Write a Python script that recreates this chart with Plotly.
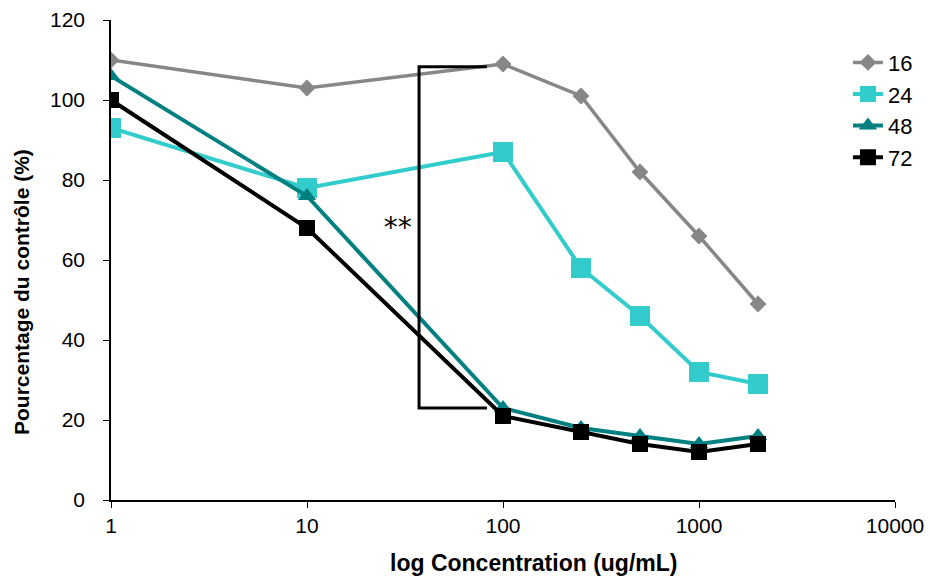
import plotly.graph_objects as go

concentration = [1, 10, 100, 250, 500, 1000, 2000]
s16 = [110, 103, 109, 101, 82, 66, 49]
s24 = [93, 78, 87, 58, 46, 32, 29]
s48 = [106, 76, 23, 18, 16, 14, 16]
s72 = [100, 68, 21, 17, 14, 12, 14]
y_ticks = [0, 20, 40, 60, 80, 100, 120]
x_ticks = [1, 10, 100, 1000, 10000]

bracket_x = [82.8, 37.3, 37.3, 82.8]
bracket_y = [108.3, 108.3, 23, 23]
star_x = [29]
star_y = [67.5]

W, H = 931, 577
ML, MR, MT, MB = 111, 36, 20, 77
PW, PH = W - ML - MR, H - MT - MB

fig = go.Figure()
fig.add_trace(go.Scatter(x=concentration, y=s16, name="16", mode="lines+markers",
                         line=dict(color="#878787", width=3.5),
                         marker=dict(symbol="diamond", size=13, color="#878787")))
fig.add_trace(go.Scatter(x=concentration, y=s24, name="24", mode="lines+markers",
                         line=dict(color="#33CCCC", width=4),
                         marker=dict(symbol="square", size=20, color="#33CCCC")))
fig.add_trace(go.Scatter(x=concentration, y=s48, name="48", mode="lines+markers",
                         line=dict(color="#008080", width=4),
                         marker=dict(symbol="triangle-up", size=16, color="#008080")))
fig.add_trace(go.Scatter(x=concentration, y=s72, name="72", mode="lines+markers",
                         line=dict(color="#000000", width=4),
                         marker=dict(symbol="square", size=16, color="#000000")))
fig.add_trace(go.Scatter(x=bracket_x, y=bracket_y, mode="lines", showlegend=False,
                         line=dict(color="#000000", width=3), hoverinfo="skip"))
fig.add_trace(go.Scatter(x=star_x, y=star_y, mode="text", text=["**"], showlegend=False,
                         textfont=dict(family="DejaVu Sans", size=28, color="#000000"),
                         hoverinfo="skip"))

fig.update_layout(
    width=W, height=H,
    margin=dict(l=ML, r=MR, t=MT, b=MB),
    paper_bgcolor="white", plot_bgcolor="white",
    font=dict(family="Liberation Sans, Arial, sans-serif", size=21, color="#000000"),
    showlegend=True,
    legend=dict(x=0.94, y=0.955, xanchor="left", yanchor="top",
                font=dict(size=22), bgcolor="rgba(0,0,0,0)", tracegroupgap=0),
    xaxis=dict(type="log", range=[0, 4], showgrid=False, zeroline=False,
               showline=True, linecolor="#000000", linewidth=1.5,
               ticks="outside", ticklen=6, tickcolor="#000000",
               tickvals=x_ticks, ticktext=[str(v) for v in x_ticks],
               automargin=False),
    yaxis=dict(range=[0, 120], showgrid=False, zeroline=False,
               showline=True, linecolor="#000000", linewidth=1.5,
               ticks="outside", ticklen=6, tickcolor="#000000",
               tickvals=y_ticks, ticktext=[str(v) for v in y_ticks],
               ticklabelstandoff=14,
               automargin=False),
    annotations=[
        dict(text="<b>log Concentration (ug/mL)</b>", xref="paper", yref="paper",
             x=(533 - ML) / PW, y=-(563 - (MT + PH)) / PH, xanchor="center", yanchor="middle",
             showarrow=False, font=dict(size=23)),
        dict(text="<b>Pourcentage du contrôle (%)</b>", xref="paper", yref="paper",
             x=-(ML - 21) / PW, y=(MT + PH - 292) / PH, xanchor="center", yanchor="middle",
             textangle=-90, showarrow=False, font=dict(size=21)),
    ],
)

fig.write_html("out.html")
